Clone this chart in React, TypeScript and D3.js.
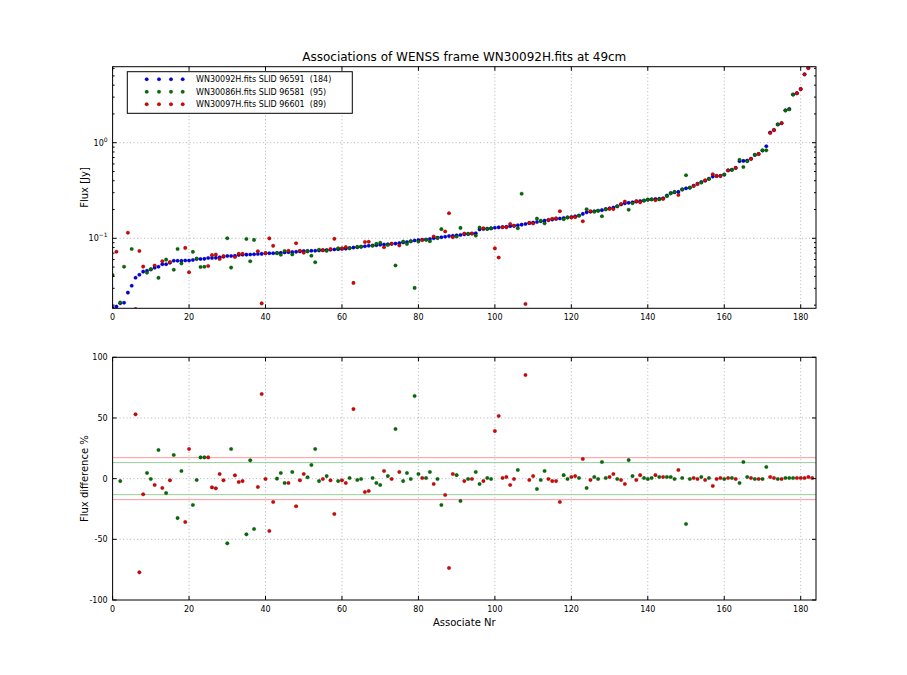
import React, { useRef, useEffect } from 'react'
import * as d3 from 'd3'

// flux of the 184 WN30092H sources, sorted (index = associate nr)
const blueFlux = [
  0.0188, 0.0193, 0.0209, 0.0212, 0.0270, 0.0319, 0.0387, 0.0416, 0.0448, 0.0458,
  0.0473, 0.0493, 0.0505, 0.0535, 0.0535, 0.0556, 0.0583, 0.0583, 0.0583, 0.0585,
  0.0585, 0.0593, 0.0607, 0.0607, 0.0610, 0.0622, 0.0622, 0.0625, 0.0632, 0.0642,
  0.0653, 0.0653, 0.0655, 0.0669, 0.0675, 0.0675, 0.0677, 0.0680, 0.0685, 0.0688,
  0.0697, 0.0697, 0.0699, 0.0700, 0.0705, 0.0712, 0.0715, 0.0718, 0.0722, 0.0730,
  0.0735, 0.0738, 0.0740, 0.0742, 0.0745, 0.0750, 0.0755, 0.0760, 0.0765, 0.0770,
  0.0775, 0.0780, 0.0790, 0.0800, 0.0805, 0.0815, 0.0825, 0.0835, 0.0840, 0.0845,
  0.0855, 0.0862, 0.0868, 0.0875, 0.0880, 0.0890, 0.0905, 0.0915, 0.0930, 0.0950,
  0.0960, 0.0965, 0.0970, 0.0985, 0.1000, 0.1010, 0.1025, 0.1040, 0.1055, 0.1065,
  0.1075, 0.1085, 0.1100, 0.1110, 0.1120, 0.1130, 0.1240, 0.1250, 0.1260, 0.1270,
  0.1290, 0.1300, 0.1310, 0.1320, 0.1340, 0.1350, 0.1370, 0.1390, 0.1410, 0.1440,
  0.1460, 0.1480, 0.1510, 0.1530, 0.1550, 0.1570, 0.1590, 0.1610, 0.1630, 0.1650,
  0.1670, 0.1700, 0.1730, 0.1800, 0.1870, 0.1900, 0.1920, 0.1940, 0.1970, 0.2020,
  0.2060, 0.2100, 0.2160, 0.2260, 0.2320, 0.2350, 0.2380, 0.2420, 0.2450, 0.2490,
  0.2530, 0.2560, 0.2580, 0.2590, 0.2620, 0.2800, 0.2980, 0.3040, 0.3060, 0.3250,
  0.3330, 0.3380, 0.3550, 0.3700, 0.3880, 0.4000, 0.4200, 0.4420, 0.4480, 0.4500,
  0.4630, 0.5150, 0.5220, 0.5440, 0.6400, 0.6450, 0.6500, 0.6800, 0.7440, 0.7620,
  0.8300, 0.9200, 1.2800, 1.3600, 1.5500, 1.6000, 2.1800, 2.2500, 3.2000, 3.3000,
  3.6500, 5.2000, 6.1000, 6.5000,
]

// WN30086H matches: associate nr and flux difference % (null = off the ±100 scale)
const greenIdx = [
  0, 2, 3, 5, 9, 10, 12, 14, 16, 17, 18, 21, 22, 23, 24, 30, 31, 35, 36, 37,
  43, 44, 45, 47, 51, 52, 53, 54, 56, 59, 62, 64, 65, 68, 69, 70, 72, 74, 76, 77,
  78, 79, 80, 82, 83, 85, 86, 90, 91, 93, 95, 96, 98, 99, 106, 107, 111, 112, 113, 118,
  119, 122, 124, 126, 127, 128, 129, 132, 135, 136, 139, 140, 141, 143, 145, 146, 147, 149, 150, 151,
  154, 156, 160, 162, 164, 165, 166, 168, 170, 171, 174, 176, 177, 178,
]
const greenDiff = [
  null, -2.0, null, null, 4.6, -0.3, 23.6, -11.8, 19.5, -32.5, 6.3, -21.7, -1.1, 17.5, 17.5, -53.3, 24.4, -45.9, 15.1, -41.5,
  0, 4.6, -3.6, 5.5, 1.1, 11.2, 24.4, -2, 2.1, -2, 0.5, -1.1, -0.3, 0.5, -3.6, -5.2, 2.1, 40.9, -2, 4.6,
  -0.3, 68.1, 3.8, 0.5, 5.5, -0.3, -21.7, 2.9, -18.4, -0.3, 5.5, -4.4, 0.5, -0.3, 7.1, null, -8.5, -1.1, 6.3, 2.9,
  -0.3, 0.5, -7.7, 1.4, -0.3, 13.7, 0.5, -0.3, 15.3, 2.1, 0.5, -0.3, 0.5, 1.4, 1.4, 1.4, -0.3, 0.5, -37.4, -0.3,
  1.4, 0.5, -0.3, 0.5, -3.6, 13.7, 1.4, -0.3, -0.3, 9.6, -0.3, 0.5, 0.5, 0.5,
]

// WN30097H matches
const redIdx = [
  1, 4, 6, 7, 8, 11, 13, 15, 19, 20, 25, 26, 27, 28, 29, 32, 33, 34, 38, 39,
  40, 41, 42, 46, 48, 49, 50, 55, 57, 58, 60, 61, 63, 66, 67, 71, 73, 75, 81, 84,
  87, 88, 89, 92, 94, 97, 100, 101, 102, 103, 104, 105, 108, 109, 110, 114, 115, 116, 117, 120,
  121, 123, 125, 130, 131, 133, 134, 137, 138, 142, 144, 148, 152, 153, 155, 157, 158, 159, 161, 163,
  167, 169, 172, 173, 175, 179, 180, 181, 182, 183,
]
const redDiff = [
  null, null, 53, -77.2, -12.9, -5.2, -7.7, -1.4, -35.7, 24.4, 17.5, -7.2, -8.0, 3.8, -1.4, 2.7, -2.8, -2.0, -6.9, 69.7,
  -0.3, -43.1, -19.3, -3.6, -22.8, -1.4, 3.8, -0.3, -1.4, -29.1, -1.4, -3.6, 57.3, -11, -10.2, 6.3, -0.3, 5.5, 0.5, -4.4,
  -13.5, -73.6, 3.8, -2, -0.3, -2, 39.2, 51.6, 0.5, 1.4, -5.2, -0.3, 85.4, -1.1, 2.1, -0.3, -2, -2, -19.3, 1.4,
  2.1, 16.2, -1.1, 1.4, 3.8, -1.1, -4.4, -1.1, 2.9, 2.9, 1.4, 7.1, 0.5, -0.3, -1.1, -6.0, -0.3, 0.5, 0.5, -0.3,
  0.5, -0.3, 1.4, 0.5, -0.3, 0.5, 0.5, 0.5, 1.4, 0.5,
]

// matches whose difference is off the lower panel: flux read directly
const offScaleIdx = [0, 1, 3, 4, 5, 107]
const offScaleFlux = [0.0413, 0.0724, 0.0505, 0.1145, 0.0773, 0.293]

const legendLabels = [
  'WN30092H.fits SLID 96591  (184)',
  'WN30086H.fits SLID 96581  (95)',
  'WN30097H.fits SLID 96601  (89)',
]
const xTicks = [0, 20, 40, 60, 80, 100, 120, 140, 160, 180]
const diffTicks = [-100, -50, 0, 50, 100]
const redBand = 17.3
const greenBand = 13.2

const W = 907
const H = 675
const FONT = 'DejaVu Sans, sans-serif'
const COL = { b: '#0000ee', g: '#007000', r: '#e00000' }
const R = 1.8

export default function App() {
  const svgRef = useRef<SVGSVGElement>(null)

  useEffect(() => {
    if (!svgRef.current) return
    const svg = d3.select(svgRef.current)
    svg.selectAll('*').remove()

    const left = 112.6, right = 816
    const top1 = 66.7, bot1 = 308.3
    const top2 = 357.3, bot2 = 600

    const x = d3.scaleLinear().domain([0, 184]).range([left, right])
    const yF = d3.scaleLog().domain([0.01853, 6.24]).range([bot1, top1])
    const yD = d3.scaleLinear().domain([-100, 100]).range([bot2, top2])

    const fluxOf = (idx: number[], diff: (number | null)[]) =>
      idx.map((i, k) => {
        const d = diff[k]
        const f = d == null ? offScaleFlux[offScaleIdx.indexOf(i)] : blueFlux[i] * (1 - d / 100)
        return { i, f, d }
      })
    const green = fluxOf(greenIdx, greenDiff)
    const red = fluxOf(redIdx, redDiff)

    const defs = svg.append('defs')
    defs.append('clipPath').attr('id', 'c1').append('rect')
      .attr('x', left).attr('y', top1).attr('width', right - left).attr('height', bot1 - top1)
    defs.append('clipPath').attr('id', 'c2').append('rect')
      .attr('x', left).attr('y', top2).attr('width', right - left).attr('height', bot2 - top2)

    svg.append('rect').attr('width', W).attr('height', H).attr('fill', '#fff')

    // Title
    svg.append('text').attr('x', (left + right) / 2).attr('y', 61)
      .attr('text-anchor', 'middle').attr('font-size', 12).attr('font-family', FONT)
      .text('Associations of WENSS frame WN30092H.fits at 49cm')

    const grid = (g: any, y0: number, y1: number, ys: number[]) => {
      xTicks.slice(1).forEach(t => {
        g.append('line').attr('x1', x(t)).attr('x2', x(t)).attr('y1', y0).attr('y2', y1)
          .attr('stroke', '#aaa').attr('stroke-width', 0.9).attr('stroke-dasharray', '1,2.5')
      })
      ys.forEach(v => {
        g.append('line').attr('x1', left).attr('x2', right).attr('y1', v).attr('y2', v)
          .attr('stroke', '#aaa').attr('stroke-width', 0.9).attr('stroke-dasharray', '1,2.5')
      })
    }

    const dots = (g: any, data: any[], cx: (d: any) => number, cy: (d: any) => number, col: string) => {
      g.selectAll(null).data(data).join('circle')
        .attr('cx', cx).attr('cy', cy).attr('r', R)
        .attr('fill', col).attr('stroke', 'rgba(0,0,0,0.4)').attr('stroke-width', 0.5)
    }

    // ---- top panel
    const g1 = svg.append('g')
    grid(g1, top1, bot1, [yF(1), yF(0.1)])
    const p1 = g1.append('g').attr('clip-path', 'url(#c1)')
    dots(p1, blueFlux.map((f, i) => ({ i, f })), d => x(d.i), d => yF(d.f), COL.b)
    dots(p1, green, d => x(d.i), d => yF(d.f), COL.g)
    dots(p1, red, d => x(d.i), d => yF(d.f), COL.r)

    // ---- bottom panel
    const g2 = svg.append('g')
    grid(g2, top2, bot2, [yD(50), yD(0), yD(-50)])
    const bands: [number, string][] = [[redBand, '#ff9999'], [greenBand, '#99cc99']]
    bands.forEach(([v, c]) => {
      [v, -v].forEach(s => {
        g2.append('line').attr('x1', left).attr('x2', right).attr('y1', yD(s)).attr('y2', yD(s))
          .attr('stroke', c).attr('stroke-width', 1)
      })
    })
    const p2 = g2.append('g').attr('clip-path', 'url(#c2)')
    dots(p2, green.filter(d => d.d != null), d => x(d.i), d => yD(d.d), COL.g)
    dots(p2, red.filter(d => d.d != null), d => x(d.i), d => yD(d.d), COL.r)

    // ---- frames, ticks, labels
    const frame = (y0: number, y1: number) => {
      svg.append('rect').attr('x', left).attr('y', y0).attr('width', right - left).attr('height', y1 - y0)
        .attr('fill', 'none').attr('stroke', '#000').attr('stroke-width', 1)
      xTicks.forEach(t => {
        svg.append('line').attr('x1', x(t)).attr('x2', x(t)).attr('y1', y1).attr('y2', y1 - 4).attr('stroke', '#000')
        svg.append('line').attr('x1', x(t)).attr('x2', x(t)).attr('y1', y0).attr('y2', y0 + 4).attr('stroke', '#000')
        svg.append('text').attr('x', x(t)).attr('y', y1 + 12).attr('text-anchor', 'middle')
          .attr('font-size', 8).attr('font-family', FONT).text(t)
      })
    }
    frame(top1, bot1)
    frame(top2, bot2)

    // log ticks
    const majors = [0.1, 1]
    majors.forEach((v, k) => {
      const yy = yF(v)
      ;[[left, 4], [right, -4]].forEach(([xx, dx]) =>
        svg.append('line').attr('x1', xx).attr('x2', xx + dx).attr('y1', yy).attr('y2', yy).attr('stroke', '#000'))
      const t = svg.append('text').attr('x', left - 5).attr('y', yy + 3).attr('text-anchor', 'end')
        .attr('font-size', 8).attr('font-family', FONT)
      t.append('tspan').text('10')
      t.append('tspan').attr('dy', -4).attr('font-size', 6).text(k === 0 ? '\u22121' : '0')
    })
    const minors: number[] = []
    ;[0.01, 0.1, 1].forEach(dec => d3.range(2, 10).forEach(m => {
      const v = dec * m
      if (v > 0.01853 && v < 6.24) minors.push(v)
    }))
    minors.forEach(v => {
      const yy = yF(v)
      ;[[left, 2], [right, -2]].forEach(([xx, dx]) =>
        svg.append('line').attr('x1', xx).attr('x2', xx + dx).attr('y1', yy).attr('y2', yy).attr('stroke', '#000'))
    })

    diffTicks.forEach(v => {
      const yy = yD(v)
      ;[[left, 4], [right, -4]].forEach(([xx, dx]) =>
        svg.append('line').attr('x1', xx).attr('x2', xx + dx).attr('y1', yy).attr('y2', yy).attr('stroke', '#000'))
      svg.append('text').attr('x', left - 5).attr('y', yy + 3).attr('text-anchor', 'end')
        .attr('font-size', 8).attr('font-family', FONT).text(v)
    })

    // axis labels
    svg.append('text').attr('transform', `translate(88,${(top1 + bot1) / 2}) rotate(-90)`)
      .attr('text-anchor', 'middle').attr('font-size', 10).attr('font-family', FONT).text('Flux [Jy]')
    svg.append('text').attr('transform', `translate(88,${(top2 + bot2) / 2}) rotate(-90)`)
      .attr('text-anchor', 'middle').attr('font-size', 10).attr('font-family', FONT).text('Flux difference %')
    svg.append('text').attr('x', (left + right) / 2).attr('y', 626)
      .attr('text-anchor', 'middle').attr('font-size', 10).attr('font-family', FONT).text('Associate Nr')

    // legend
    const lg = svg.append('g')
    lg.append('rect').attr('x', 127.3).attr('y', 71.7).attr('width', 225).attr('height', 41.6)
      .attr('fill', '#fff').attr('stroke', '#000')
    const lcols = [COL.b, COL.g, COL.r]
    legendLabels.forEach((lab, k) => {
      const yy = 79.3 + k * 12.5
      ;[146.7, 159, 171, 182.7].forEach(xx =>
        lg.append('circle').attr('cx', xx).attr('cy', yy).attr('r', R)
          .attr('fill', lcols[k]).attr('stroke', 'rgba(0,0,0,0.4)').attr('stroke-width', 0.5))
      lg.append('text').attr('x', 196).attr('y', yy + 3).attr('font-size', 8)
        .attr('font-family', FONT).style('white-space', 'pre').text(lab)
    })
  }, [])

  return (
    <svg ref={svgRef} width={W} height={H}
      style={{ position: 'absolute', left: 0, top: 0, display: 'block' }} />
  )
}
